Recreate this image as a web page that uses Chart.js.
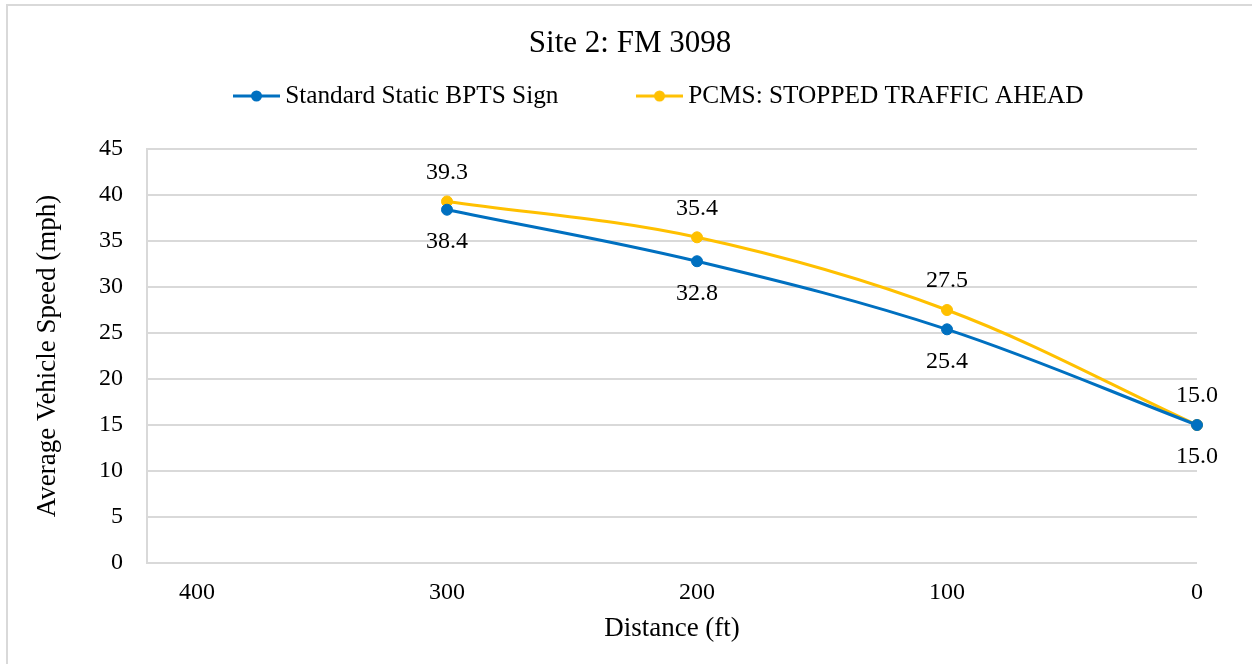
<!DOCTYPE html>
<html>
<head>
<meta charset="utf-8">
<script src="https://cdn.jsdelivr.net/npm/chart.js@4.4.1/dist/chart.umd.min.js"></script>
<style>
html,body{margin:0;padding:0;background:#fff;overflow:hidden}
#wrap{width:1252px;height:664px;position:relative}
canvas{display:block}
</style>
</head>
<body>
<div id="wrap"><canvas id="c" width="1252" height="664"></canvas></div>
<script>
// ---- data ----
const distances = [300, 200, 100, 0];
const staticSign = [38.4, 32.8, 25.4, 15.0];
const pcms = [39.3, 35.4, 27.5, 15.0];
const seriesNames = ['Standard Static BPTS Sign', 'PCMS: STOPPED TRAFFIC AHEAD'];
const xTickValues = [400, 300, 200, 100, 0];
const yTickValues = [0, 5, 10, 15, 20, 25, 30, 35, 40, 45];
const chartTitle = 'Site 2: FM 3098';
const xTitle = 'Distance (ft)';
const yTitle = 'Average Vehicle Speed (mph)';

// ---- styles ----
const BLUE = '#0070C0';
const YELLOW = '#FFC000';
const GRID = '#d9d9d9';
const FONT = '"Liberation Serif", "Times New Roman", serif';

function marker(color) {
  const c = document.createElement('canvas');
  c.width = 47; c.height = 14;
  const g = c.getContext('2d');
  g.strokeStyle = color; g.lineWidth = 3;
  g.beginPath(); g.moveTo(0, 7); g.lineTo(47, 7); g.stroke();
  g.fillStyle = color;
  g.beginPath(); g.arc(23.5, 7, 5.5, 0, Math.PI * 2); g.fill();
  return c;
}
const markers = [marker(BLUE), marker(YELLOW)];

const toPts = (xs, ys) => xs.map((x, i) => ({x: x, y: ys[i]}));

const LEGEND_PAD = 85;
const LEGEND_FS = 25.3;
const LEGEND_BW = 32;

const boxFix = {
  id: 'boxFix',
  beforeLayout(chart) {
    const lg = chart.legend;
    if (lg && !lg.__fixed) {
      lg.__fixed = true;
      const fit0 = lg.fit.bind(lg);
      lg.fit = function () { fit0(); this.height = 149 - 64.2; };
      lg.draw = function () {
        if (!this.options.display) return;
        const ctx = this.ctx;
        const itemH = this._itemHeight || LEGEND_FS;
        const lw = (this.lineWidths && this.lineWidths[0]) || 0;
        const startX = (this.left + LEGEND_PAD + this.right - lw) / 2;
        const dx = 233 - (startX + LEGEND_BW / 2 - 23.5);
        const dy = 96 - (this.top + LEGEND_PAD + itemH / 2);
        ctx.save(); ctx.translate(dx, dy); this._draw(); ctx.restore();
      };
    }
    const tt = chart.titleBlock;
    if (tt && !tt.__fixed) {
      tt.__fixed = true;
      const tdraw0 = tt.draw.bind(tt);
      tt.draw = function () {
        const ctx = this.ctx;
        const dx = 630 - (this.left + this.right) / 2;
        ctx.save(); ctx.translate(dx, 0); tdraw0(); ctx.restore();
      };
    }
  }
};

const frame = {
  id: 'frame',
  beforeDraw(chart) {
    const ctx = chart.ctx;
    ctx.save();
    ctx.fillStyle = '#fff';
    ctx.fillRect(0, 0, chart.width, chart.height);
    ctx.strokeStyle = GRID;
    ctx.lineWidth = 2;
    ctx.strokeRect(7, 5, chart.width + 20, chart.height + 20);
    ctx.restore();
  }
};

const valueLabels = {
  id: 'valueLabels',
  afterDatasetsDraw(chart) {
    const ctx = chart.ctx;
    ctx.save();
    ctx.font = '24px ' + FONT;
    ctx.fillStyle = '#000';
    ctx.textAlign = 'center';
    ctx.textBaseline = 'middle';
    chart.data.datasets.forEach((ds, di) => {
      const meta = chart.getDatasetMeta(di);
      meta.data.forEach((el, i) => {
        const v = ds.data[i].y;
        const off = di === 1 ? -29 : 32;
        ctx.fillText(v.toFixed(1), el.x, el.y + off);
      });
    });
    ctx.restore();
  }
};

new Chart(document.getElementById('c'), {
  type: 'line',
  data: {
    datasets: [
      {
        label: seriesNames[0],
        data: toPts(distances, staticSign),
        borderColor: BLUE, backgroundColor: BLUE,
        pointBackgroundColor: BLUE, pointBorderColor: BLUE,
        borderWidth: 3, pointRadius: 5.5, pointBorderWidth: 1,
        tension: 0.35, clip: false
      },
      {
        label: seriesNames[1],
        data: toPts(distances, pcms),
        borderColor: YELLOW, backgroundColor: YELLOW,
        pointBackgroundColor: YELLOW, pointBorderColor: YELLOW,
        borderWidth: 3, pointRadius: 5.5, pointBorderWidth: 1,
        tension: 0.35, clip: false
      }
    ]
  },
  options: {
    responsive: false,
    animation: false,
    devicePixelRatio: 1,
    layout: { padding: { left: 0, right: 55, top: 0, bottom: 0 } },
    plugins: {
      title: {
        display: true, text: chartTitle, color: '#000',
        font: { family: FONT, size: 31, weight: 'normal', lineHeight: 1.2 },
        padding: { top: 25, bottom: 2 }
      },
      legend: {
        display: true, position: 'top', align: 'center',
        labels: {
          color: '#000',
          font: { family: FONT, size: LEGEND_FS },
          usePointStyle: true,
          pointStyleWidth: LEGEND_BW,
          padding: LEGEND_PAD,
          generateLabels(chart) {
            const items = Chart.defaults.plugins.legend.labels.generateLabels(chart);
            items.forEach((it, i) => { it.pointStyle = markers[i]; });
            return items;
          }
        }
      },
      tooltip: { enabled: false }
    },
    scales: {
      x: {
        type: 'linear', reverse: true, min: 0, max: 420,
        afterBuildTicks(scale) { scale.ticks = xTickValues.map(v => ({value: v})); },
        afterFit(scale) { scale.height = 101; },
        grid: { display: false, drawTicks: false },
        border: { display: false },
        ticks: { color: '#000', font: { family: FONT, size: 24 }, padding: 15, maxRotation: 0, autoSkip: false },
        title: { display: true, text: xTitle, color: '#000', font: { family: FONT, size: 27 }, padding: { top: 0, bottom: 19 } }
      },
      y: {
        type: 'linear', min: 0, max: 45,
        afterBuildTicks(scale) { scale.ticks = yTickValues.map(v => ({value: v})); },
        afterFit(scale) { scale.width = 147; },
        grid: { color: GRID, lineWidth: 2, drawTicks: false },
        border: { display: true, color: GRID, width: 2 },
        ticks: { color: '#000', font: { family: FONT, size: 24 }, padding: 24 },
        title: { display: true, text: yTitle, color: '#000', font: { family: FONT, size: 27 }, padding: { top: 32, bottom: 0 } }
      }
    }
  },
  plugins: [boxFix, frame, valueLabels]
});
</script>
</body>
</html>
